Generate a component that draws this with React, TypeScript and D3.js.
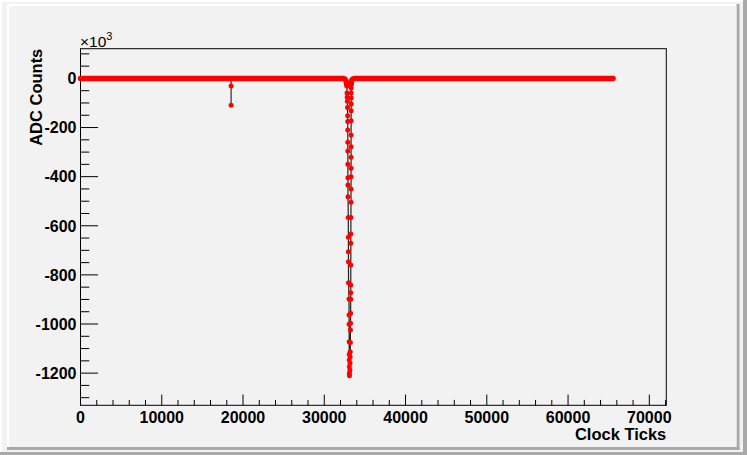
import React from "react";
import * as d3 from "d3";

// ---- data (values in units of 10^3 ADC counts) ----
const bandLeftTicks = [0, 32300, 32550, 32700, 32760];
const bandLeftValues = [0, 0, -3, -12, -25];
const bandRightTicks = [33320, 33380, 33500, 33800, 65536];
const bandRightValues = [-25, -8, -2, 0, 0];

const spikeTicks = [18520, 18534, 18535, 18540];
const spikeValues = [0, -31, -109, 0];

const pulseTicks = [
  32780, 32800, 32820, 32840, 32860, 32875, 32885, 32890, 32895, 32900, 32905, 32910, 32915, 32920,
  32955, 32965, 32970, 32975, 32985, 33040, 33050, 33055, 33065, 33075, 33080, 33085, 33090, 33100,
  33150, 33170, 33180, 33190, 33210, 33220, 33230, 33240, 33255, 33260, 33262, 33265, 33268, 33270,
  33280, 33290, 33292, 33295, 33296, 33297, 33298, 33300, 33300, 33305, 33310, 33310, 33310, 33310,
];
const pulseValues = [
  -31, -59, -77, -93, -118, -152, -175, -210, -260, -296, -349, -404, -434, -482,
  -566, -647, -706, -746, -832, -898, -963, -1001, -1072, -1123, -1147, -1174, -1201, -1211,
  -1187, -1160, -1133, -1113, -1075, -1024, -997, -956, -899, -873, -841, -760, -671, -634,
  -566, -504, -450, -400, -366, -321, -278, -230, -172, -132, -104, -80, -59, -39,
];

const xDomain = [0, 72090];
const yDomain = [-1331, 121];
const xMajorTicks = [0, 10000, 20000, 30000, 40000, 50000, 60000, 70000];
const yMajorTicks = [-1200, -1000, -800, -600, -400, -200, 0];

const W = 747;
const H = 455;
const frame = { left: 80.5, right: 666.3, top: 48.7, bottom: 405.3 };
const FONT = "'Liberation Sans', Arial, Helvetica, sans-serif";

export default function App() {
  const x = d3.scaleLinear().domain(xDomain).range([frame.left, frame.right]);
  const y = d3.scaleLinear().domain(yDomain).range([frame.bottom, frame.top]);
  const line = d3
    .line<[number, number]>()
    .x((d) => x(d[0]))
    .y((d) => y(d[1]));

  const zip = (a: number[], b: number[]) => a.map((t, i) => [t, b[i]] as [number, number]);
  const bandL = zip(bandLeftTicks, bandLeftValues);
  const bandR = zip(bandRightTicks, bandRightValues);
  const spike = zip(spikeTicks, spikeValues);
  const pulse = zip(pulseTicks, pulseValues);
  const full = [...bandL, ...pulse, ...bandR];

  const xMinor = d3.range(0, xDomain[1], 2000).filter((v) => v % 10000 !== 0);
  const yMinor = d3.range(-1300, yDomain[1], 50).filter((v) => v % 200 !== 0);
  const xLen = (frame.bottom - frame.top) * 0.03;
  const yLen = (frame.right - frame.left) * 0.03;

  return (
    <svg
      width={W}
      height={H}
      style={{ position: "absolute", left: 0, top: 0 }}
      xmlns="http://www.w3.org/2000/svg"
    >
      {/* canvas bevels */}
      <rect x={0} y={0} width={W} height={H} fill="#f2f2f2" />
      <rect x={0} y={0} width={W} height={2} fill="#ffffff" />
      <rect x={0} y={0} width={2} height={H} fill="#ffffff" />
      <rect x={743} y={0} width={4} height={H} fill="#a9a9a9" />
      <rect x={0} y={452} width={W} height={3} fill="#a9a9a9" />
      {/* pad bevel */}
      <rect x={7} y={4} width={730} height={2.5} fill="#ffffff" />
      <rect x={7} y={4} width={2.5} height={443} fill="#ffffff" />
      <rect x={736.5} y={4} width={3} height={446} fill="#a9a9a9" />
      <rect x={7} y={447} width={732.5} height={3} fill="#a9a9a9" />
      <rect x={9.5} y={6.5} width={727} height={440.5} fill="#f2f2f2" />

      {/* frame */}
      <rect
        x={frame.left}
        y={frame.top}
        width={frame.right - frame.left}
        height={frame.bottom - frame.top}
        fill="none"
        stroke="#000"
        strokeWidth={1}
      />

      {/* x ticks */}
      {xMajorTicks.map((t) => (
        <g key={"xm" + t}>
          <line x1={x(t)} x2={x(t)} y1={frame.bottom} y2={frame.bottom - xLen} stroke="#000" />
          <text
            x={x(t)}
            y={422.5}
            textAnchor="middle"
            fontFamily={FONT}
            fontWeight="bold"
            fontSize={16}
          >
            {t}
          </text>
        </g>
      ))}
      {xMinor.map((t) => (
        <line key={"xn" + t} x1={x(t)} x2={x(t)} y1={frame.bottom} y2={frame.bottom - xLen / 2} stroke="#000" />
      ))}

      {/* y ticks */}
      {yMajorTicks.map((t) => (
        <g key={"ym" + t}>
          <line x1={frame.left} x2={frame.left + yLen} y1={y(t)} y2={y(t)} stroke="#000" />
          <text
            x={76.5}
            y={y(t) + 5.8}
            textAnchor="end"
            fontFamily={FONT}
            fontWeight="bold"
            fontSize={16}
          >
            {t}
          </text>
        </g>
      ))}
      {yMinor.map((t) => (
        <line key={"yn" + t} x1={frame.left} x2={frame.left + yLen / 2} y1={y(t)} y2={y(t)} stroke="#000" />
      ))}

      {/* exponent */}
      <text x={80} y={46.5} fontFamily={FONT} fontSize={15.5}>
        ×10
        <tspan dy={-7} fontSize={11}>
          3
        </tspan>
      </text>

      {/* axis titles */}
      <text
        x={666.3}
        y={440}
        textAnchor="end"
        fontFamily={FONT}
        fontWeight="bold"
        fontSize={16.5}
      >
        Clock Ticks
      </text>
      <text
        transform={`translate(41.5, ${frame.top}) rotate(-90)`}
        textAnchor="end"
        fontFamily={FONT}
        fontWeight="bold"
        fontSize={16.5}
      >
        ADC Counts
      </text>

      {/* data */}
      <path d={line(spike) || ""} fill="none" stroke="#333" strokeWidth={1.2} />
      <path d={line(full) || ""} fill="none" stroke="#222" strokeWidth={1.2} />
      <path d={line(bandL) || ""} fill="none" stroke="#ff0000" strokeWidth={5.5} strokeLinecap="round" strokeLinejoin="round" />
      <path d={line(bandR) || ""} fill="none" stroke="#ff0000" strokeWidth={5.5} strokeLinecap="round" strokeLinejoin="round" />
      {spike.slice(1, 3).map((d, i) => (
        <circle key={"s" + i} cx={x(d[0])} cy={y(d[1])} r={2.5} fill="#ff0000" />
      ))}
      {pulse.map((d, i) => (
        <circle key={"p" + i} cx={x(d[0])} cy={y(d[1])} r={2.5} fill="#ff0000" />
      ))}
    </svg>
  );
}
